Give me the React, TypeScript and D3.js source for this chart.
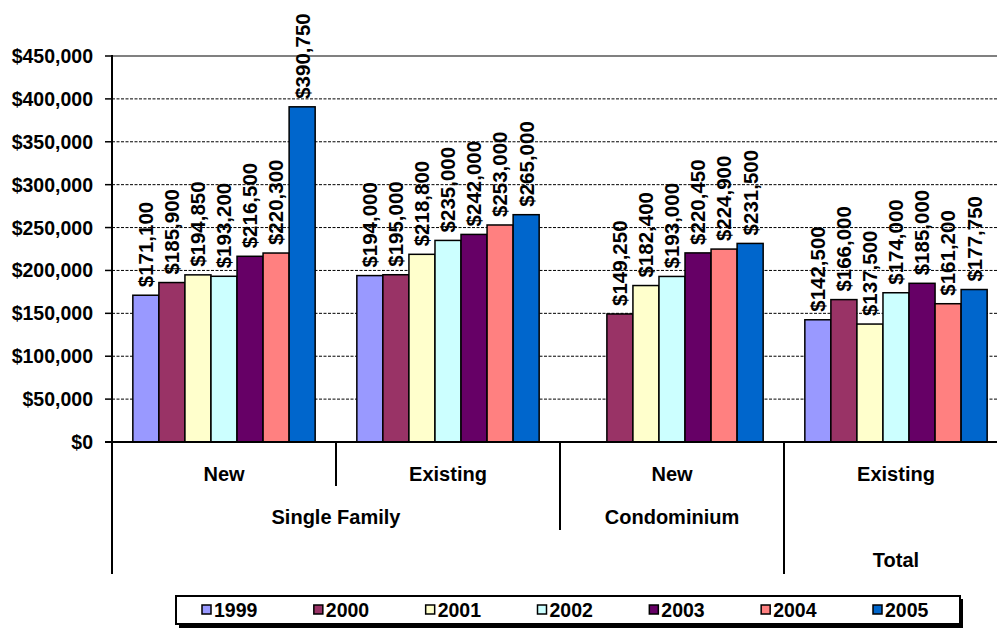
import React from "react";
import * as d3 from "d3";

// Median home prices by housing type, 1999-2005
const years = ["1999", "2000", "2001", "2002", "2003", "2004", "2005"];
const categories = ["New", "Existing", "New", "Existing"];
const colors = ["#9999FF", "#993366", "#FFFFCC", "#CCFFFF", "#660066", "#FF8080", "#0066CC"];

const v1999 = [171100, 194000, null, 142500];
const v2000 = [185900, 195000, 149250, 166000];
const v2001 = [194850, 218800, 182400, 137500];
const v2002 = [193200, 235000, 193000, 174000];
const v2003 = [216500, 242000, 220450, 185000];
const v2004 = [220300, 253000, 224900, 161200];
const v2005 = [390750, 265000, 231500, 177750];
const series: (number | null)[][] = [v1999, v2000, v2001, v2002, v2003, v2004, v2005];

// Second and third levels of the category axis: [label, first index, last index, level]
const groupLabels: [string, number, number, number][] = [
  ["Single Family", 0, 1, 2],
  ["Condominium", 2, 2, 2],
  ["Total", 3, 3, 3],
];
// Divider depth at each category boundary (1 = first level only, ...)
const dividerDepth = [3, 1, 2, 3];

const yTicks = [0, 50000, 100000, 150000, 200000, 250000, 300000, 350000, 400000, 450000];

const W = 997;
const H = 629;
const left = 112;
const plotRight = 1008;
const y0 = 442;
const yTop = 56;
const FONT = "'Liberation Sans', Arial, sans-serif";

export default function App() {
  const x0 = d3.scaleBand<number>().domain(d3.range(categories.length)).range([left, plotRight]);
  const x1 = d3
    .scaleBand<string>()
    .domain(years)
    .range([0, x0.bandwidth()])
    .paddingInner(0)
    .paddingOuter(0.8);
  const y = d3.scaleLinear().domain([0, 450000]).range([y0, yTop]);
  const fmt = (v: number) => "$" + d3.format(",")(v);

  const levelY = [0, 481, 524, 567];
  const levelLine = [0, 486, 530, 574];

  const legendX = d3.scalePoint<string>().domain(years).range([202, 873]);

  return (
    <svg
      width={W}
      height={H}
      style={{ position: "absolute", left: 0, top: 0, background: "#fff" }}
      fontFamily={FONT}
      fontWeight="bold"
    >
      {/* gridlines */}
      {yTicks.slice(1, -1).map((t) => (
        <line
          key={"g" + t}
          x1={left}
          x2={W}
          y1={y(t)}
          y2={y(t)}
          stroke="#000"
          strokeWidth={1}
          strokeDasharray="3,1.5"
        />
      ))}
      <line x1={left} x2={W} y1={y(450000)} y2={y(450000)} stroke="#808080" strokeWidth={2} />

      {/* bars */}
      {series.map((vals, si) =>
        vals.map((v, ci) =>
          v == null ? null : (
            <rect
              key={`b${si}-${ci}`}
              x={(x0(ci) as number) + (x1(years[si]) as number)}
              y={y(v)}
              width={x1.bandwidth()}
              height={y0 - y(v)}
              fill={colors[si]}
              stroke="#000"
              strokeWidth={1.5}
            />
          )
        )
      )}

      {/* value labels */}
      {series.map((vals, si) =>
        vals.map((v, ci) => {
          if (v == null) return null;
          const cx = (x0(ci) as number) + (x1(years[si]) as number) + x1.bandwidth() / 2;
          const ty = y(v) - 8;
          return (
            <text
              key={`l${si}-${ci}`}
              transform={`translate(${cx},${ty}) rotate(-90)`}
              dy="0.36em"
              fontSize={20.5}
              fill="#000"
            >
              {fmt(v)}
            </text>
          );
        })
      )}

      {/* y axis */}
      <line x1={left} x2={left} y1={yTop - 1} y2={levelLine[3]} stroke="#000" strokeWidth={2} />
      {yTicks.map((t) => (
        <g key={"t" + t}>
          <line x1={left - 7} x2={left} y1={y(t)} y2={y(t)} stroke="#000" strokeWidth={1.5} />
          <text x={93} y={y(t)} dy="0.36em" textAnchor="end" fontSize={19.5}>
            {fmt(t)}
          </text>
        </g>
      ))}

      {/* x axis */}
      <line x1={left - 7} x2={W} y1={y0} y2={y0} stroke="#000" strokeWidth={2} />
      {dividerDepth.slice(1).map((d, i) => {
        const bx = x0(i + 1) as number;
        return <line key={"d" + i} x1={bx} x2={bx} y1={y0} y2={levelLine[d]} stroke="#000" strokeWidth={2} />;
      })}
      {categories.map((c, i) => (
        <text
          key={"c" + i}
          x={(x0(i) as number) + x0.bandwidth() / 2}
          y={levelY[1]}
          textAnchor="middle"
          fontSize={20}
        >
          {c}
        </text>
      ))}
      {groupLabels.map(([label, a, b, lvl]) => (
        <text
          key={label}
          x={((x0(a) as number) + (x0(b) as number) + x0.bandwidth()) / 2}
          y={levelY[lvl]}
          textAnchor="middle"
          fontSize={20}
        >
          {label}
        </text>
      ))}

      {/* legend */}
      <rect x={179} y={599} width={784} height={29} fill="#000" />
      <rect x={176} y={596} width={784} height={28} fill="#fff" stroke="#000" strokeWidth={2} />
      {years.map((yr, i) => {
        const lx = legendX(yr) as number;
        return (
          <g key={"lg" + yr}>
            <rect x={lx} y={605} width={9} height={9} fill={colors[i]} stroke="#000" strokeWidth={1.5} />
            <text x={lx + 12} y={610} dy="0.36em" fontSize={19.5}>
              {yr}
            </text>
          </g>
        );
      })}
    </svg>
  );
}
